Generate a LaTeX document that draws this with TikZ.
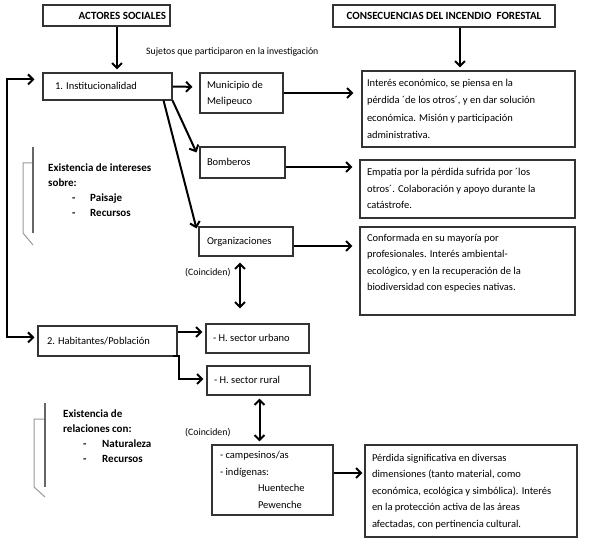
\documentclass[tikz,border=0pt]{standalone}
\usepackage{fontspec}
\setmainfont{Carlito}
\usetikzlibrary{arrows.meta,calc}
\newcommand{\bxtxt}[2]{\makebox[#1][l]{\begin{tabular}{@{}l@{}}#2\end{tabular}}}
\begin{document}
\begin{tikzpicture}[x=1pt,y=-1pt,
  box/.style={draw=black!80, line width=1.1pt, rectangle, inner ysep=0pt,
    font=\fontsize{10.5}{16.5}\selectfont},
  ttl/.style={draw=black!80, line width=1.1pt, rectangle, inner sep=0pt,
    font=\fontsize{11}{13}\selectfont\bfseries},
  arr/.style={line width=2pt, -{Straight Barb[length=5pt,width=10pt]}},
  darr/.style={line width=2pt, {Straight Barb[length=5pt,width=10pt]}-{Straight Barb[length=5pt,width=10pt]}},
  note/.style={inner sep=0pt, font=\fontsize{9.8}{11}\selectfont},
  bnote/.style={inner sep=0pt, anchor=north west, font=\fontsize{11}{15}\selectfont\bfseries},
  brkd/.style={draw=black!60, line width=1.2pt},
  brkl/.style={draw=black!40, line width=1pt}
]
\useasboundingbox (0,0) rectangle (589,545);

% titles
\node[ttl, minimum width=127pt, minimum height=21pt, inner xsep=4pt] (actores) at (106.5,15.5)
  {\makebox[119pt][r]{ACTORES SOCIALES}};
\node[ttl, minimum width=222pt, minimum height=22pt] (consec) at (444,16)
  {CONSECUENCIAS DEL INCENDIO\ \ FORESTAL};

% left column boxes
\node[box, minimum width=129pt, minimum height=27pt, inner xsep=12pt] (inst) at (107.5,86.5)
  {\bxtxt{105pt}{1. Institucionalidad}};
\node[box, minimum width=139pt, minimum height=30pt, inner xsep=9pt] (hab) at (107.5,341)
  {\bxtxt{121pt}{2. Habitantes/Población}};

% middle column
\node[box, minimum width=83pt, minimum height=40pt, inner xsep=7pt] (muni) at (241.5,93)
  {\bxtxt{69pt}{Municipio de\\Melipeuco}};
\node[box, minimum width=85pt, minimum height=31pt, inner xsep=7pt] (bomb) at (242.5,162.5)
  {\bxtxt{71pt}{Bomberos}};
\node[box, minimum width=94pt, minimum height=29pt, inner xsep=8pt] (org) at (246,241.5)
  {\bxtxt{78pt}{Organizaciones}};
\node[box, minimum width=103pt, minimum height=29pt, inner xsep=7pt] (urb) at (257.5,338.5)
  {\bxtxt{89pt}{- H. sector urbano}};
\node[box, minimum width=103pt, minimum height=29pt, inner xsep=7pt] (rur) at (258.5,380.5)
  {\bxtxt{89pt}{- H. sector rural}};
\node[box, minimum width=121pt, minimum height=70pt, inner xsep=8pt] (camp) at (272.5,480)
  {\bxtxt{105pt}{- campesinos/as\\- indígenas:\\\hspace*{38pt}Huenteche\\\hspace*{38pt}Pewenche}};

% right column
\node[box, minimum width=213pt, minimum height=76pt, inner xsep=5pt,
  font=\fontsize{10.5}{17.5}\selectfont] (interes) at (468.5,109)
  {\bxtxt{203pt}{Interés económico, se piensa en la\\pérdida ´de los otros´, y en dar solución\\económica. Misión y participación\\administrativa.}};
\node[box, minimum width=215pt, minimum height=58pt, inner xsep=7pt] (emp) at (467.5,189)
  {\bxtxt{201pt}{Empatía por la pérdida sufrida por ´los\\otros´. Colaboración y apoyo durante la\\catástrofe.}};
\node[box, minimum width=215pt, minimum height=88pt, inner xsep=7pt] (conf) at (467.5,271)
  {\bxtxt{201pt}{Conformada en su mayoría por\\profesionales. Interés ambiental-\\ecológico, y en la recuperación de la\\biodiversidad con especies nativas.\\\mbox{}}};
\node[box, minimum width=212pt, minimum height=92pt, inner xsep=7pt] (perd) at (471,491)
  {\bxtxt{198pt}{Pérdida significativa en diversas\\dimensiones (tanto material, como\\económica, ecológica y simbólica). Interés\\en la protección activa de las áreas\\afectadas, con pertinencia cultural.}};

% notes
\node[note, anchor=west] (sujetos) at (146,52) {Sujetos que participaron en la investigación};
\node[note, anchor=west] (coinc1) at (185,273) {(Coinciden)};
\node[note, anchor=west] (coinc2) at (185,433) {(Coinciden)};

\node[bnote] (intereses) at (48,160.5)
  {\begin{tabular}{@{}l@{}}Existencia de intereses\\sobre:\\\hspace*{24pt}\makebox[18pt][l]{-}Paisaje\\\hspace*{24pt}\makebox[18pt][l]{-}Recursos\end{tabular}};
\node[bnote] (relaciones) at (63,406.5)
  {\begin{tabular}{@{}l@{}}Existencia de\\relaciones con:\\\hspace*{20pt}\makebox[19pt][l]{-}Naturaleza\\\hspace*{20pt}\makebox[19pt][l]{-}Recursos\end{tabular}};

% brackets
\draw[brkl] (33,163) -- (23,163) -- (23,233) -- (33,245);
\draw[brkd] (33,147) -- (33,233);
\draw[brkl] (45,419) -- (34,419) -- (34,487) -- (45,497);
\draw[brkd] (45,403) -- (45,487);

% connectors
\draw[arr, shorten >=3pt] ($(actores.south)+(10.5,0)$) -- ($(inst.north)+(9.5,0)$);
\draw[arr, shorten >=3pt] ($(consec.south)+(16,0)$) -- ($(interes.north)+(-8.5,0)$);
\draw[arr, shorten >=7pt] (inst.east) -- ($(muni.west)+(0,-6)$);
\draw[arr, shorten >=8pt] (muni.east) -- (muni.east -| interes.west);
\draw[arr] (inst.south east) -- ($(bomb.north west)+(-3,6)$);
\draw[arr] ($(inst.south east)+(-9,0)$) -- ($(org.north west)+(-2,2)$);
\draw[arr, shorten >=7pt] ($(bomb.east)+(0,4.5)$) -- ($(emp.west)+(0,-22)$);
\draw[arr, shorten >=7pt] ($(org.east)+(0,4.5)$) -- ($(conf.west)+(0,-25)$);
\draw[darr] ($(org.south)+(-6,6)$) -- ($(urb.north)+(-17.5,-15)$);
\draw[darr] ($(inst.north west)+(-8,7)$) -| ($(hab.north west)+(-30,12)$) -- ($(hab.north west)+(-3,12)$);
\draw[arr] ($(hab.east)+(0,-9)$) -- ($(urb.west)+(-3,-6.5)$);
\draw[arr] ($(hab.south east)+(-5,-1)$) -- ++(6,0) |- ($(rur.west)+(-3,-1.5)$);
\draw[darr] ($(rur.south)+(1,3)$) -- ($(camp.north)+(-13,-3)$);
\draw[arr] ($(camp.east)+(0,-7)$) -- ($(perd.west)+(-2,-18)$);
\end{tikzpicture}
\end{document}
